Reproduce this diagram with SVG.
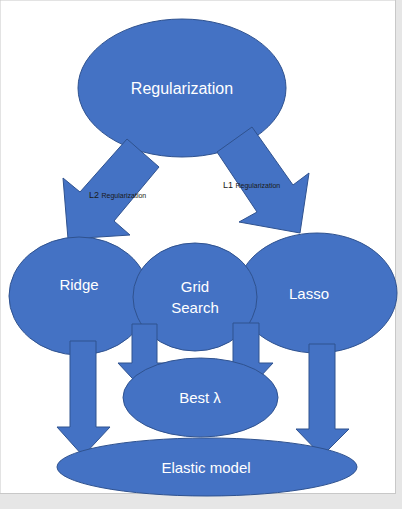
<svg xmlns="http://www.w3.org/2000/svg" width="402" height="509" viewBox="0 0 402 509">
<style>
.s{fill:#4472c4;stroke:#2f528f;stroke-width:1}
.t{fill:#ffffff;font-family:"Liberation Sans",Arial,sans-serif;font-size:15px;text-anchor:middle}
.l{fill:#1a1a1a;font-family:"Liberation Sans",Arial,sans-serif}
</style>
<rect x="0" y="0" width="402" height="509" fill="#e6e6e6"/>
<rect x="0" y="0" width="395.5" height="493.5" fill="#ffffff" stroke="#c8c8c8" stroke-width="1"/>
<g id="regularization">
<ellipse class="s" cx="182" cy="88" rx="104" ry="69"/>
<text class="t" x="182" y="94" style="font-size:16px">Regularization</text>
</g>
<g id="connectors-top">
<polygon class="s" points="127,139 159,167 114,221 130,235 68,239 63,178 80,192"/>
<polygon class="s" points="252,127 293,185 309,173 300,233 239,222 257,212 217,152"/>
<text class="l" x="89" y="198" font-size="9">L2 <tspan font-size="7">Regularization</tspan></text>
<text class="l" x="223" y="188" font-size="9">L1 <tspan font-size="7">Regularization</tspan></text>
</g>
<g id="ridge">
<ellipse class="s" cx="79" cy="296" rx="70" ry="59"/>
<text class="t" x="79" y="290">Ridge</text>
</g>
<g id="lasso">
<ellipse class="s" cx="317" cy="293" rx="80" ry="60"/>
<text class="t" x="309" y="299">Lasso</text>
</g>
<g id="grid-search">
<ellipse class="s" cx="195" cy="297" rx="62" ry="54"/>
<text class="t" x="195" y="292">Grid</text>
<text class="t" x="195" y="313">Search</text>
</g>
<g id="connectors-bottom">
<polygon class="s" points="70,341 96,341 96,427 110,427 83,456 57,427 70,427"/>
<polygon class="s" points="309,344 335,344 335,429 349,429 322,456 296,429 309,429"/>
<polygon class="s" points="132,324 157,324 157,363 171,363 145,392 118,363 132,363"/>
<polygon class="s" points="233,323 259,323 259,363 273,363 246,392 219,363 233,363"/>
</g>
<g id="best-lambda">
<ellipse class="s" cx="200.5" cy="397.5" rx="77.5" ry="39.5"/>
<text class="t" x="200" y="403">Best λ</text>
</g>
<g id="elastic-model">
<ellipse class="s" cx="207" cy="467" rx="150" ry="29"/>
<text class="t" x="206" y="473">Elastic model</text>
</g>
</svg>
